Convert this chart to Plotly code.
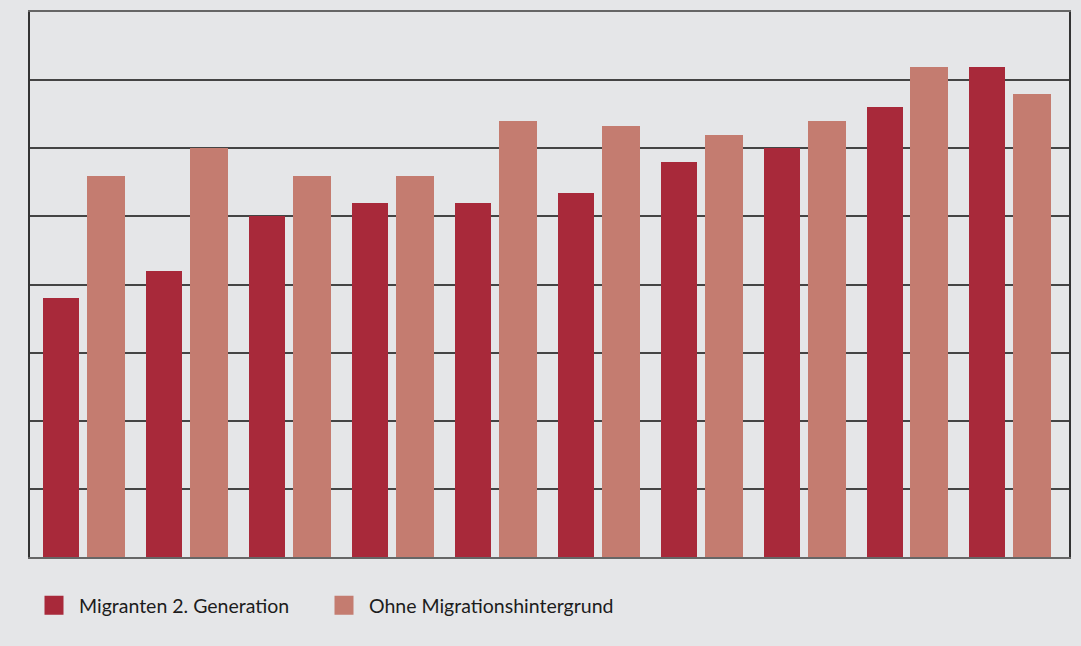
import plotly.graph_objects as go

# ---- data ----
groups = list(range(10))
migranten_2_gen = [19, 21, 25, 26, 26, 26.7, 29, 30, 33, 36]
ohne_migration = [28, 30, 28, 28, 32, 31.6, 31, 32, 36, 34]
series_names = ["Migranten 2. Generation", "Ohne Migrationshintergrund"]
y_tick_values = [0, 5, 10, 15, 20, 25, 30, 35, 40]

# ---- styles ----
DARK = "#a8293a"
LIGHT = "#c47c70"
BG = "#e5e6e8"
W, H = 1081, 646

fig = go.Figure()
fig.add_trace(go.Bar(x=groups, y=migranten_2_gen, name=series_names[0],
                     marker=dict(color=DARK, line=dict(width=0)),
                     offset=-0.398, width=0.35, showlegend=False))
fig.add_trace(go.Bar(x=groups, y=ohne_migration, name=series_names[1],
                     marker=dict(color=LIGHT, line=dict(width=0)),
                     offset=0.029, width=0.369, showlegend=False))
# legend entries with larger square swatches (one legend each for exact placement)
for nm, c, lg in zip(series_names, [DARK, LIGHT], ["legend", "legend2"]):
    fig.add_trace(go.Scatter(x=[None], y=[None], mode="markers", name=nm,
                             legend=lg,
                             marker=dict(symbol="square", size=16, color=c,
                                         line=dict(width=3, color=c))))

legend_font = dict(family="Lato", size=19.5, color="#1c1c1c")
common_legend = dict(orientation="h", xref="container", yref="container",
                     xanchor="left", y=1 - 605.5 / H, yanchor="middle",
                     bgcolor="rgba(0,0,0,0)", itemwidth=40, font=legend_font)

fig.update_layout(
    width=W, height=H,
    margin=dict(l=30, r=12, t=10, b=89),
    paper_bgcolor=BG, plot_bgcolor=BG,
    font=dict(family="Lato", size=19.5, color="#1c1c1c"),
    showlegend=True,
    legend=dict(x=29 / W, **common_legend),
    legend2=dict(x=319 / W, **common_legend),
    xaxis=dict(range=[-0.5246, 9.569], showticklabels=False, ticks="",
               showgrid=False, zeroline=False, showline=True, mirror=True,
               linecolor="#666666", linewidth=2),
    yaxis=dict(range=[0, 40], tickvals=y_tick_values, showticklabels=False,
               ticks="", showgrid=True, gridcolor="#444444", gridwidth=1.5,
               zeroline=False, showline=True, mirror=True,
               linecolor="#333333", linewidth=1.5),
    bargap=0,
)

fig.write_html("out.html")
